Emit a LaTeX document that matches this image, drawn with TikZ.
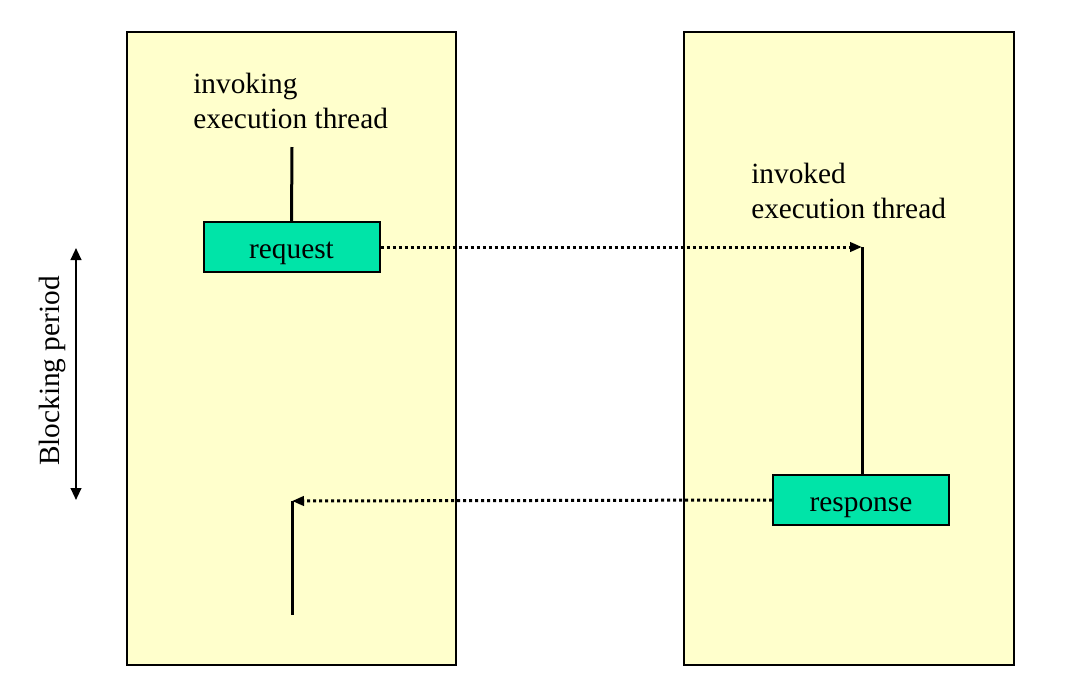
\documentclass[tikz,border=0pt]{standalone}
\usepackage{fontspec}
\setmainfont{Liberation Serif}
\usetikzlibrary{arrows.meta,positioning}
\definecolor{panelyellow}{HTML}{FFFFCC}
\definecolor{msggreen}{HTML}{00E4A8}
\tikzset{
  panel/.style={draw,fill=panelyellow,line width=1.5pt},
  msgbox/.style={draw,fill=msggreen,line width=1.5pt,minimum width=132pt,minimum height=37.5pt,inner sep=0pt,text height=20pt,text depth=3.5pt},
  thread/.style={line width=2.25pt},
  call/.style={line width=2.25pt,dash pattern=on 2.25pt off 2.25pt,-{Triangle[length=9pt,width=7pt]}},
  caption/.style={align=left,inner sep=0pt,font=\fontsize{22}{26.5}\selectfont}
}
\begin{document}
\begin{tikzpicture}[x=0.75pt,y=-0.75pt,font=\fontsize{22}{26.5}\selectfont]
\useasboundingbox (0,0) rectangle (1082,690);
% the two threads
\draw[panel] (127,32) rectangle (456,665);
\draw[panel] (684,32) rectangle (1014,665);
\node[caption,anchor=north west] (invokinglabel) at (193,73) {invoking\\execution thread};
\node[caption,anchor=north west] (invokedlabel) at (751,163) {invoked\\execution thread};
\node[msgbox] (request) at (291.5,247) {request};
\node[msgbox] (response) at (861,500) {response};
\coordinate (invokingtop) at (292,147);
\coordinate (invokedtop) at (862,247);
\coordinate (resume) at (292,501);
\coordinate (invokingend) at (292,615);
\draw[thread] (invokingtop) -- (request.north);
\draw[thread] (invokedtop) -- (invokedtop |- response.north);
\draw[thread] (resume) -- (invokingend);
% messages
\draw[call] (request.east) -- (invokedtop);
\draw[call] (response.west) -- (resume);
% blocking
\coordinate (blockstart) at (76,248);
\coordinate (blockend) at (76,500);
\draw[line width=1.5pt,{Triangle[length=9pt,width=8pt]}-{Triangle[length=9pt,width=8pt]}] (blockstart) -- (blockend);
\node[rotate=90] (blocking) at (52,371) {Blocking period};
\end{tikzpicture}
\end{document}
